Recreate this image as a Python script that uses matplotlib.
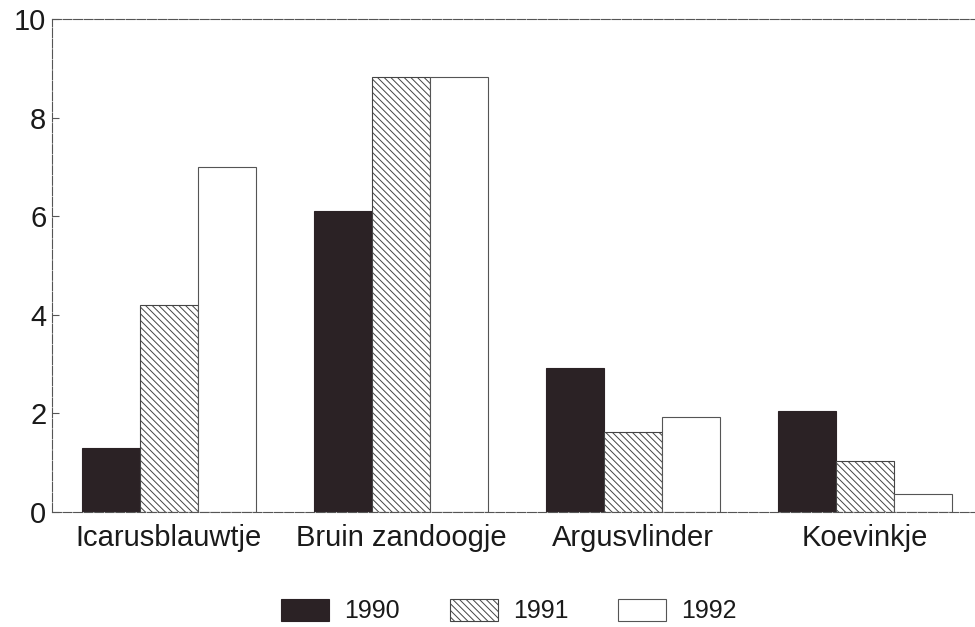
import numpy as np
import matplotlib
matplotlib.use("Agg")
import matplotlib.pyplot as plt
from matplotlib.patches import Patch

# data
species = ["Icarusblauwtje", "Bruin zandoogje", "Argusvlinder", "Koevinkje"]
years = ["1990", "1991", "1992"]
vals_1990 = [1.3, 6.1, 2.92, 2.05]
vals_1991 = [4.2, 8.82, 1.62, 1.03]
vals_1992 = [7.0, 8.82, 1.93, 0.36]

plt.rcParams['font.family'] = ['Liberation Sans', 'DejaVu Sans']
plt.rcParams['hatch.linewidth'] = 0.7
plt.rcParams['hatch.color'] = '#333333'

fig = plt.figure(figsize=(9.75, 6.27), dpi=100)
ax = fig.add_axes([52 / 975, (627 - 512) / 627, (975 - 52) / 975, (512 - 19) / 627])

group_x = np.arange(len(species)) * 4.0
styles = [
    dict(color='#2b2225', edgecolor='#2b2225', hatch=None),
    dict(color='white', edgecolor='#444444', hatch='\\\\\\\\\\'),
    dict(color='white', edgecolor='#555555', hatch=None),
]
series = [vals_1990, vals_1991, vals_1992]
handles = []
for i, (vals, st) in enumerate(zip(series, styles)):
    ax.bar(group_x + (i - 1), vals, width=1.0, color=st['color'],
           edgecolor=st['edgecolor'], hatch=st['hatch'], linewidth=0.8)
    handles.append(Patch(facecolor=st['color'], edgecolor=st['edgecolor'],
                         hatch=st['hatch'], linewidth=0.8, label=years[i]))

ax.set_ylim(0, 10)
ax.set_xlim(-1.5 - 30 / 58, 12 + 1.5 + 23 / 58)
ax.set_yticks([0, 2, 4, 6, 8, 10])
ax.set_xticks(group_x)
ax.set_xticklabels(species)

for s in ['left', 'top', 'bottom']:
    ax.spines[s].set_color('#555555')
    ax.spines[s].set_linewidth(0.8)
    ax.spines[s].set_linestyle((0, (8, 1.5)))
ax.spines['right'].set_visible(False)

ax.tick_params(axis='y', direction='in', length=5, width=0.8, color='#555555',
               labelsize=21, pad=4, labelcolor='#1a1a1a')
ax.tick_params(axis='x', length=0, labelsize=21, pad=9, labelcolor='#1a1a1a')

fig.legend(handles=handles, loc='center', bbox_to_anchor=(509 / 975, 1 - 611 / 627),
           ncol=3, frameon=False, fontsize=18, handlelength=1.92, handleheight=1.0,
           handletextpad=0.6, columnspacing=2.0, labelcolor='#1a1a1a')

fig.savefig("out.png", dpi=100)
